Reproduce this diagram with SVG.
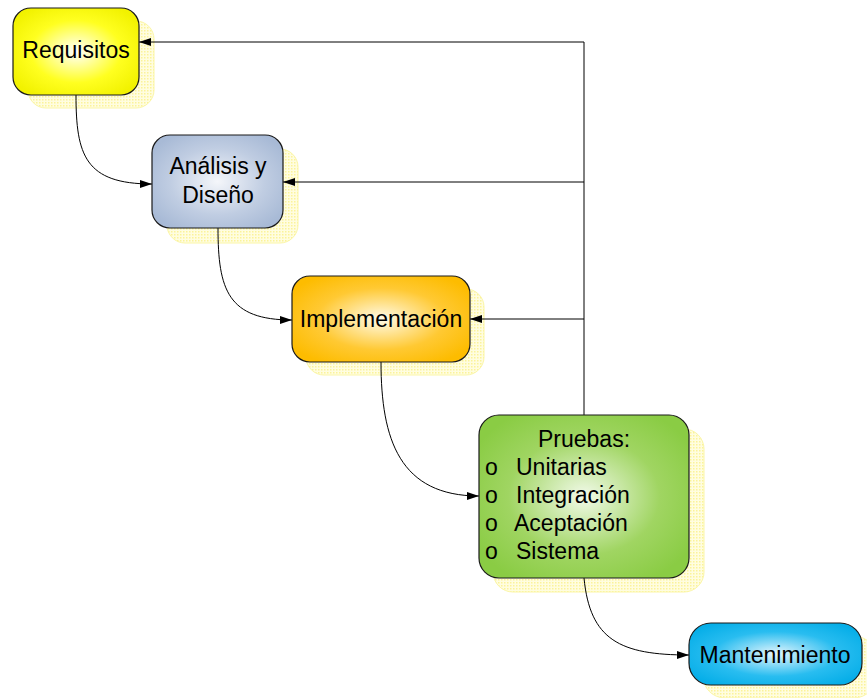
<svg xmlns="http://www.w3.org/2000/svg" width="867" height="698" viewBox="0 0 867 698">
<style>
.box{stroke:#1a1a1a;stroke-width:1.2}
.sh{fill:url(#dots);stroke:#fbf6a8;stroke-width:1}
.t{font-family:"Liberation Sans",Arial,sans-serif;font-size:23px;fill:#000}
.b{font-family:"Liberation Sans",Arial,sans-serif;font-size:23px;fill:#000}
.c{text-anchor:middle}
.ln{fill:none;stroke:#000;stroke-width:1}
</style>
<defs>
<pattern id="dots" width="3" height="3" patternUnits="userSpaceOnUse">
<rect width="3" height="3" fill="#fffde0"/>
<rect width="1.5" height="1.5" fill="#fbf39a"/>
</pattern>
<radialGradient id="gY" cx="0.5" cy="0.5" r="0.6"><stop offset="0" stop-color="#ffffff"/><stop offset="0.6" stop-color="#ffff20"/><stop offset="1" stop-color="#f2f200"/></radialGradient>
<radialGradient id="gB" cx="0.5" cy="0.5" r="0.6"><stop offset="0" stop-color="#f4f6fa"/><stop offset="0.6" stop-color="#c0cde2"/><stop offset="1" stop-color="#a8bad6"/></radialGradient>
<radialGradient id="gO" cx="0.5" cy="0.5" r="0.6"><stop offset="0" stop-color="#fffbea"/><stop offset="0.6" stop-color="#ffc933"/><stop offset="1" stop-color="#fdbc00"/></radialGradient>
<radialGradient id="gG" cx="0.5" cy="0.5" r="0.6"><stop offset="0" stop-color="#f2faea"/><stop offset="0.6" stop-color="#a0d562"/><stop offset="1" stop-color="#8acc44"/></radialGradient>
<radialGradient id="gC" cx="0.5" cy="0.5" r="0.6"><stop offset="0" stop-color="#e6f6fd"/><stop offset="0.6" stop-color="#29bdf0"/><stop offset="1" stop-color="#06aee8"/></radialGradient>
<marker id="ar" markerWidth="12" markerHeight="8" refX="12" refY="4" orient="auto" markerUnits="userSpaceOnUse">
<path d="M0,0 L12,4 L0,8 Z" fill="#000"/>
</marker>
</defs>

<g id="shadows">
<rect class="sh" x="28" y="21" width="126" height="87" rx="18"/>
<rect class="sh" x="167" y="149" width="131" height="94" rx="18"/>
<rect class="sh" x="306" y="289" width="178" height="86" rx="18"/>
<rect class="sh" x="493" y="429" width="211" height="163" rx="20"/>
<rect class="sh" x="703" y="636" width="173" height="62" rx="22"/>
</g>

<g id="connectors">
<path class="ln" d="M76,95 C76,155 85,184 152,184" marker-end="url(#ar)"/>
<path class="ln" d="M218,228 C218,290 228,320 292,320" marker-end="url(#ar)"/>
<path class="ln" d="M381,362 C381,440 400,496 479,496" marker-end="url(#ar)"/>
<path class="ln" d="M584,578 C590,640 620,655 689,655" marker-end="url(#ar)"/>
<path class="ln" d="M584,415 L584,42 L139,42" marker-end="url(#ar)"/>
<path class="ln" d="M584,182 L283,182" marker-end="url(#ar)"/>
<path class="ln" d="M584,319 L470,319" marker-end="url(#ar)"/>
</g>

<g id="requisitos">
<rect class="box" x="13" y="8" width="126" height="87" rx="18" fill="url(#gY)"/>
<text class="t c" x="76" y="58">Requisitos</text>
</g>

<g id="analisis">
<rect class="box" x="152" y="135" width="131" height="93" rx="18" fill="url(#gB)"/>
<text class="t c" x="218" y="174">Análisis y</text>
<text class="t c" x="218" y="203">Diseño</text>
</g>

<g id="implementacion">
<rect class="box" x="292" y="276" width="178" height="86" rx="18" fill="url(#gO)"/>
<text class="t c" x="381" y="327">Implementación</text>
</g>

<g id="pruebas">
<rect class="box" x="479" y="415" width="210" height="163" rx="20" fill="url(#gG)"/>
<text class="t c" x="584" y="447">Pruebas:</text>
<text class="b" x="485" y="475">o</text>
<text class="t" x="516" y="475">Unitarias</text>
<text class="b" x="485" y="503">o</text>
<text class="t" x="516" y="503">Integración</text>
<text class="b" x="485" y="531">o</text>
<text class="t" x="514" y="531">Aceptación</text>
<text class="b" x="485" y="559">o</text>
<text class="t" x="516" y="559">Sistema</text>
</g>

<g id="mantenimiento">
<rect class="box" x="689" y="623" width="173" height="62" rx="22" fill="url(#gC)"/>
<text class="t c" x="775" y="663">Mantenimiento</text>
</g>
</svg>
